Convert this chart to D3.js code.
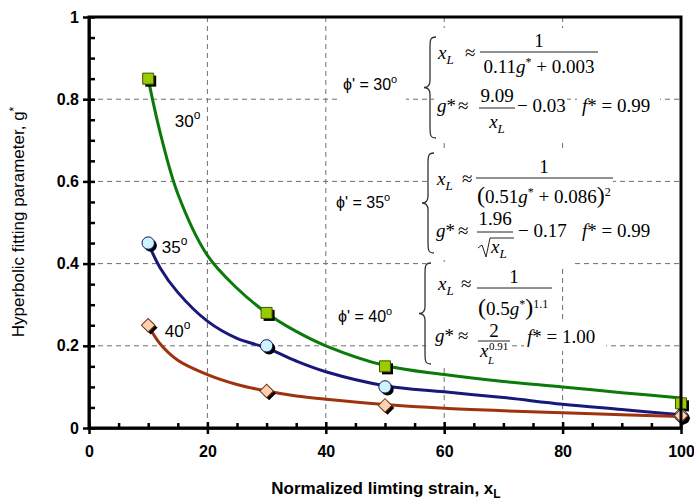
<!DOCTYPE html>
<html>
<head>
<meta charset="utf-8">
<script src="https://cdn.jsdelivr.net/npm/d3@7"></script>
<style>
  body { margin: 0; background: #fff; }
  svg { display: block; }
  .tick text { font-family: Arial, "Liberation Sans", sans-serif; font-weight: bold; font-size: 16px; fill: #000; }
  .math { font-family: "Liberation Serif", "Times New Roman", serif; fill: #000; }
  .lab { font-family: Arial, "Liberation Sans", sans-serif; fill: #000; }
</style>
</head>
<body>
<svg id="chart" width="694" height="504"></svg>
<script>
// axis ticks
const xTicks = [0, 20, 40, 60, 80, 100];
const xLabels = ['0', '20', '40', '60', '80', '100'];
const xMinor = [5, 10, 15, 25, 30, 35, 45, 50, 55, 65, 70, 75, 85, 90, 95];
const yTicks = [0, 0.2, 0.4, 0.6, 0.8, 1];
const yLabels = ['0', '0.2', '0.4', '0.6', '0.8', '1'];
const yMinor = [0.05, 0.1, 0.15, 0.25, 0.3, 0.35, 0.45, 0.5, 0.55, 0.65, 0.7, 0.75, 0.85, 0.9, 0.95];

// measured points, one array per friction angle
const pts30 = [[10, 0.85], [30, 0.28], [50, 0.15], [100, 0.06]];
const pts35 = [[10, 0.45], [30, 0.20], [50, 0.10], [100, 0.03]];
const pts40 = [[10, 0.25], [30, 0.09], [50, 0.055], [100, 0.03]];

// fitted curves
const fitX  = [10, 12, 15, 20, 25, 30, 35, 40, 50, 60, 70, 80, 90, 100];
const fit30 = [0.85, 0.72, 0.57, 0.42, 0.34, 0.28, 0.235, 0.20, 0.152, 0.13, 0.113, 0.10, 0.086, 0.073];
const fit35 = [0.45, 0.39, 0.33, 0.26, 0.218, 0.195, 0.163, 0.137, 0.103, 0.088, 0.074, 0.058, 0.045, 0.032];
const fit40 = [0.25, 0.205, 0.165, 0.13, 0.106, 0.09, 0.078, 0.07, 0.057, 0.048, 0.042, 0.037, 0.032, 0.028];

const svg = d3.select('#chart');
const x = d3.scaleLinear().domain([0, 100]).range([89, 681]);
const y = d3.scaleLinear().domain([0, 1]).range([428, 17]);

// grid
const grid = svg.append('g').attr('stroke', '#6e6e6e').attr('stroke-width', 1).attr('stroke-dasharray', '5,4');
grid.selectAll('.gx').data(xTicks.slice(1, -1)).join('line')
  .attr('x1', d => x(d)).attr('x2', d => x(d)).attr('y1', y(1)).attr('y2', y(0));
grid.selectAll('.gy').data(yTicks.slice(1, -1)).join('line')
  .attr('x1', x(0)).attr('x2', x(100)).attr('y1', d => y(d)).attr('y2', d => y(d));

// white patches behind the equations (they hide the grid there)
const patches = [
  [434, 28, 166, 56], [434, 84, 133, 56], [577, 96, 83, 22], [340, 72, 66, 31],
  [428, 150, 185, 108], [575, 218, 86, 26], [333, 190, 66, 24],
  [426, 262, 130, 60], [556, 260, 16, 6], [426, 322, 86, 46], [524, 323, 82, 28], [335, 302, 66, 24]
];
svg.append('g').selectAll('rect').data(patches).join('rect')
  .attr('x', d => d[0]).attr('y', d => d[1]).attr('width', d => d[2]).attr('height', d => d[3])
  .attr('fill', '#fff');

// --- equations ---
const eq = svg.append('g');

function mtext(xp, yp, parts, anchor, size) {
  const t = eq.append('text').attr('class', 'math').attr('x', xp).attr('y', yp)
    .attr('text-anchor', anchor || 'start').style('font-size', (size || 19) + 'px');
  let shift = 0;
  parts.forEach(([s, k]) => {
    let target = 0, fs = null, it = false;
    if (k === 'i') it = true;
    if (k === 'sub') { target = 5; fs = 13; it = true; }
    if (k === 'sup') { target = -7; fs = 12; }
    if (k === 'big') { fs = 24; }
    const ts = t.append('tspan').text(s).attr('dy', target - shift);
    shift = target;
    if (fs) ts.style('font-size', fs + 'px');
    if (it) ts.style('font-style', 'italic');
  });
  return t;
}

function bar(x1, x2, yp) {
  eq.append('line').attr('x1', x1).attr('x2', x2).attr('y1', yp).attr('y2', yp)
    .attr('stroke', '#222').attr('stroke-width', 1);
}

function brace(xp, top, bottom) {
  const mid = (top + bottom) / 2;
  const p = `M${xp + 6},${top} C${xp},${top} ${xp},${top + 3} ${xp},${top + 12} L${xp},${mid - 7}
    C${xp},${mid - 2} ${xp - 3},${mid} ${xp - 6},${mid} C${xp - 3},${mid} ${xp},${mid + 2} ${xp},${mid + 7}
    L${xp},${bottom - 12} C${xp},${bottom - 3} ${xp},${bottom} ${xp + 6},${bottom}`;
  eq.append('path').attr('d', p).attr('fill', 'none').attr('stroke', '#333').attr('stroke-width', 1.3);
}

function phiLabel(xp, yp, deg) {
  const t = eq.append('text').attr('class', 'lab').attr('x', xp).attr('y', yp).style('font-size', '16px');
  t.append('tspan').text('\u03D5\' = ' + deg);
  t.append('tspan').text('o').style('font-size', '11px').attr('dy', -7);
}

// phi' = 30
phiLabel(343, 90, '30');
brace(430, 37, 138);
mtext(438, 59, [['x', 'i'], ['L', 'sub']]);
mtext(465, 59, [['\u2248', 'n']]);
mtext(539, 47, [['1', 'n']], 'middle');
bar(480, 598, 52);
mtext(539, 73, [['0.11', 'n'], ['g', 'i'], ['*', 'sup'], [' + 0.003', 'n']], 'middle');
mtext(437, 112, [['g', 'i'], ['*', 'n']]);
mtext(458, 112, [['\u2248', 'n']]);
mtext(497, 102, [['9.09', 'n']], 'middle');
bar(479, 515, 108);
mtext(497, 128, [['x', 'i'], ['L', 'sub']], 'middle');
mtext(517, 112, [['\u2212 0.03', 'n']]);
mtext(582, 112, [['f', 'i'], ['* = 0.99', 'n']]);

// phi' = 35
phiLabel(336, 208, '35');
brace(428, 153, 253);
mtext(437, 185, [['x', 'i'], ['L', 'sub']]);
mtext(462, 185, [['\u2248', 'n']]);
mtext(544, 173, [['1', 'n']], 'middle');
bar(476, 613, 178);
mtext(477, 203, [['(', 'big'], ['0.51', 'n'], ['g', 'i'], ['*', 'sup'], [' + 0.086', 'n'], [')', 'big'], ['2', 'sup']]);
mtext(436, 237, [['g', 'i'], ['*', 'n']]);
mtext(458, 237, [['\u2248', 'n']]);
mtext(495, 225, [['1.96', 'n']], 'middle');
bar(477, 513, 232);
eq.append('path').attr('d', 'M478,248 L482,245 L486,257 L490,238 L514,238')
  .attr('fill', 'none').attr('stroke', '#222').attr('stroke-width', 1);
mtext(491, 253, [['x', 'i'], ['L', 'sub']]);
mtext(518, 237, [['\u2212 0.17', 'n']]);
mtext(582, 237, [['f', 'i'], ['* = 0.99', 'n']]);

// phi' = 40
phiLabel(338, 322, '40');
brace(425, 263, 364);
mtext(438, 290, [['x', 'i'], ['L', 'sub']]);
mtext(461, 290, [['\u2248', 'n']]);
mtext(514, 283, [['1', 'n']], 'middle');
bar(477, 552, 288);
mtext(478, 315, [['(', 'big'], ['0.5', 'n'], ['g', 'i'], ['*', 'sup'], [')', 'big'], ['1.1', 'sup']]);
mtext(435, 342, [['g', 'i'], ['*', 'n']]);
mtext(458, 342, [['\u2248', 'n']]);
mtext(494, 337, [['2', 'n']], 'middle');
bar(478, 510, 341);
mtext(480, 357, [['x', 'i']]);
mtext(489, 350, [['0.91', 'n']], 'start', 11);
mtext(488, 364, [['L', 'i']], 'start', 11);
mtext(527, 343, [['f', 'i'], ['* = 1.00', 'n']]);

// --- curves ---
const line = d3.line().x(d => x(d[0])).y(d => y(d[1])).curve(d3.curveCatmullRom);
const series = [
  { fit: fit30, color: '#0b7a0b' },
  { fit: fit35, color: '#17187a' },
  { fit: fit40, color: '#a0330f' }
];
svg.append('g').selectAll('path').data(series).join('path')
  .attr('d', s => line(fitX.map((v, i) => [v, s.fit[i]])))
  .attr('fill', 'none').attr('stroke', s => s.color).attr('stroke-width', 3);

// --- markers (with black drop shadow) ---
const mk = svg.append('g');
function markers(pts, shape, fill, stroke, sz, rot) {
  const sym = d3.symbol().type(shape).size(sz);
  const g = mk.append('g');
  g.selectAll('.sh').data(pts).join('path')
    .attr('d', sym)
    .attr('transform', d => `translate(${x(d[0]) + 2.5},${y(d[1]) + 2.5}) rotate(${rot})`)
    .attr('fill', '#000');
  g.selectAll('.mk').data(pts).join('path')
    .attr('d', sym)
    .attr('transform', d => `translate(${x(d[0])},${y(d[1])}) rotate(${rot})`)
    .attr('fill', fill).attr('stroke', stroke).attr('stroke-width', 1);
}
markers(pts30, d3.symbolSquare, '#99cc00', '#3d5200', 121, 0);
markers(pts35, d3.symbolCircle, '#cdf3ff', '#15165a', 120, 0);
markers(pts40, d3.symbolSquare, '#fcd3b0', '#7a3315', 92, 45);

// curve labels
function angleLabel(xp, yp, deg) {
  const t = svg.append('text').attr('class', 'lab').attr('x', xp).attr('y', yp).style('font-size', '17px');
  t.append('tspan').text(deg);
  t.append('tspan').text('o').style('font-size', '12px').attr('dy', -8);
}
angleLabel(x(14.5), 127, '30');
angleLabel(x(12.3), 253, '35');
angleLabel(x(12.8), 337, '40');

// --- axes ---
const xAxis = svg.append('g').attr('transform', `translate(0,${y(0)})`)
  .call(d3.axisBottom(x).tickValues(xTicks).tickFormat((d, i) => xLabels[i])
    .tickSizeInner(6).tickSizeOuter(0).tickPadding(12));
xAxis.selectAll('.tick line').attr('y1', -6).attr('stroke-width', 2.5);
svg.append('g').attr('transform', `translate(0,${y(0)})`)
  .call(d3.axisBottom(x).tickValues(xMinor).tickFormat('').tickSizeInner(-5).tickSizeOuter(0))
  .call(g => g.select('.domain').remove())
  .selectAll('.tick line').attr('stroke-width', 2.5);

const yAxis = svg.append('g').attr('transform', `translate(${x(0)},0)`)
  .call(d3.axisLeft(y).tickValues(yTicks).tickFormat((d, i) => yLabels[i])
    .tickSizeInner(6).tickSizeOuter(0).tickPadding(4));
yAxis.selectAll('.tick line').attr('x1', 6).attr('stroke-width', 2.5);
svg.append('g').attr('transform', `translate(${x(0)},0)`)
  .call(d3.axisLeft(y).tickValues(yMinor).tickFormat('').tickSizeInner(-6).tickSizeOuter(0))
  .call(g => g.select('.domain').remove())
  .selectAll('.tick line').attr('stroke-width', 2.5);

svg.selectAll('.domain').attr('stroke-width', 2.5);

// frame
svg.append('rect')
  .attr('x', x(0)).attr('y', y(1)).attr('width', x(100) - x(0)).attr('height', y(0) - y(1))
  .attr('fill', 'none').attr('stroke', '#000').attr('stroke-width', 3);

// axis titles
const xt = svg.append('text').attr('class', 'lab').attr('x', 386).attr('y', 494)
  .attr('text-anchor', 'middle').style('font-size', '17px').style('font-weight', 'bold');
xt.append('tspan').text('Normalized limting strain, x');
xt.append('tspan').text('L').style('font-size', '12px').attr('dy', 4);

const yt = svg.append('text').attr('class', 'lab')
  .attr('transform', 'translate(24,222) rotate(-90)')
  .attr('text-anchor', 'middle').style('font-size', '17px');
yt.append('tspan').text('Hyperbolic fitting parameter, g');
yt.append('tspan').text('*').style('font-size', '12px').attr('dy', -6);
</script>
</body>
</html>
